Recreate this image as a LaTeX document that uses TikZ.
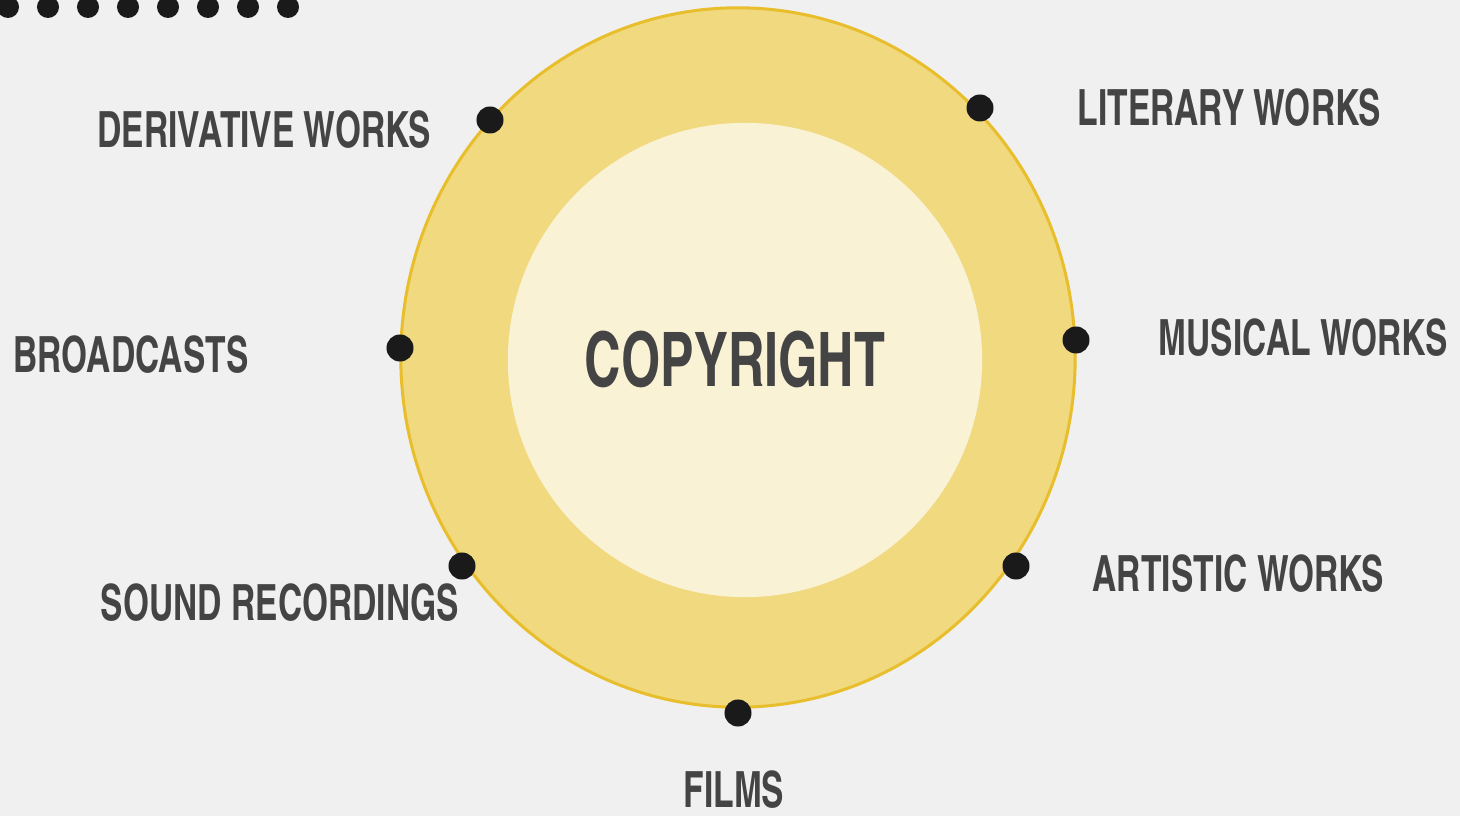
\documentclass[tikz,border=0pt]{standalone}
\usepackage{fontspec}
\newfontfamily\condfont{texgyreheroscn}[Extension=.otf, UprightFont=*-bold, FakeStretch=0.82]
\definecolor{bgcol}{HTML}{F0F0F0}
\definecolor{ringcol}{HTML}{F1D97F}
\definecolor{rimcol}{HTML}{E8BE2C}
\definecolor{corecol}{HTML}{FAF2D5}
\definecolor{txtcol}{HTML}{444444}
\definecolor{dotcol}{HTML}{1A1A1A}
\tikzset{
  lbl/.style={text=txtcol, inner sep=0pt, font=\condfont\fontsize{14.2}{16}\selectfont},
  pin/.style={circle, fill=dotcol, inner sep=0pt, minimum size=0.27cm}
}

\begin{document}
\begin{tikzpicture}[x=0.01cm, y=-0.01cm]
	\useasboundingbox (0,0) rectangle (1460,816);
	\fill [bgcol] (0,0) rectangle (1460,816);
	\foreach \x in {8,48,...,288}
	\fill [dotcol] (\x, 7) circle [radius = 0.11cm];
	\draw [rimcol, line width=0.03cm, fill=ringcol] (738,357.5) ellipse [x radius = 3.37cm, y radius = 3.495cm];
	\fill [corecol] (745,360) circle [radius = 2.37cm];
	\node (copy) at (735,387) [lbl, anchor=base, font=\condfont\fontsize{21.4}{24}\selectfont] {COPYRIGHT};
	% points on the ring
	\node (pderiv) at (490,120) [pin] {};
	\node (plit) at (980,108) [pin] {};
	\node (pmus) at (1076,340) [pin] {};
	\node (pbroad) at (400,348) [pin] {};
	\node (psound) at (462,566) [pin] {};
	\node (part) at (1016,566) [pin] {};
	\node (pfilm) at (738,713) [pin] {};
	% labels
	\node (deriv) at (432,148) [lbl, anchor=base east] {DERIVATIVE WORKS};
	\node (lit) at (1077,126) [lbl, anchor=base west] {LITERARY WORKS};
	\node (mus) at (1158,356) [lbl, anchor=base west] {MUSICAL WORKS};
	\node (broad) at (13,373) [lbl, anchor=base west] {BROADCASTS};
	\node (sound) at (460,621) [lbl, anchor=base east] {SOUND RECORDINGS};
	\node (art) at (1092,592) [lbl, anchor=base west] {ARTISTIC WORKS};
	\node (film) at (734,808) [lbl, anchor=base] {FILMS};
\end{tikzpicture}
\end{document}
